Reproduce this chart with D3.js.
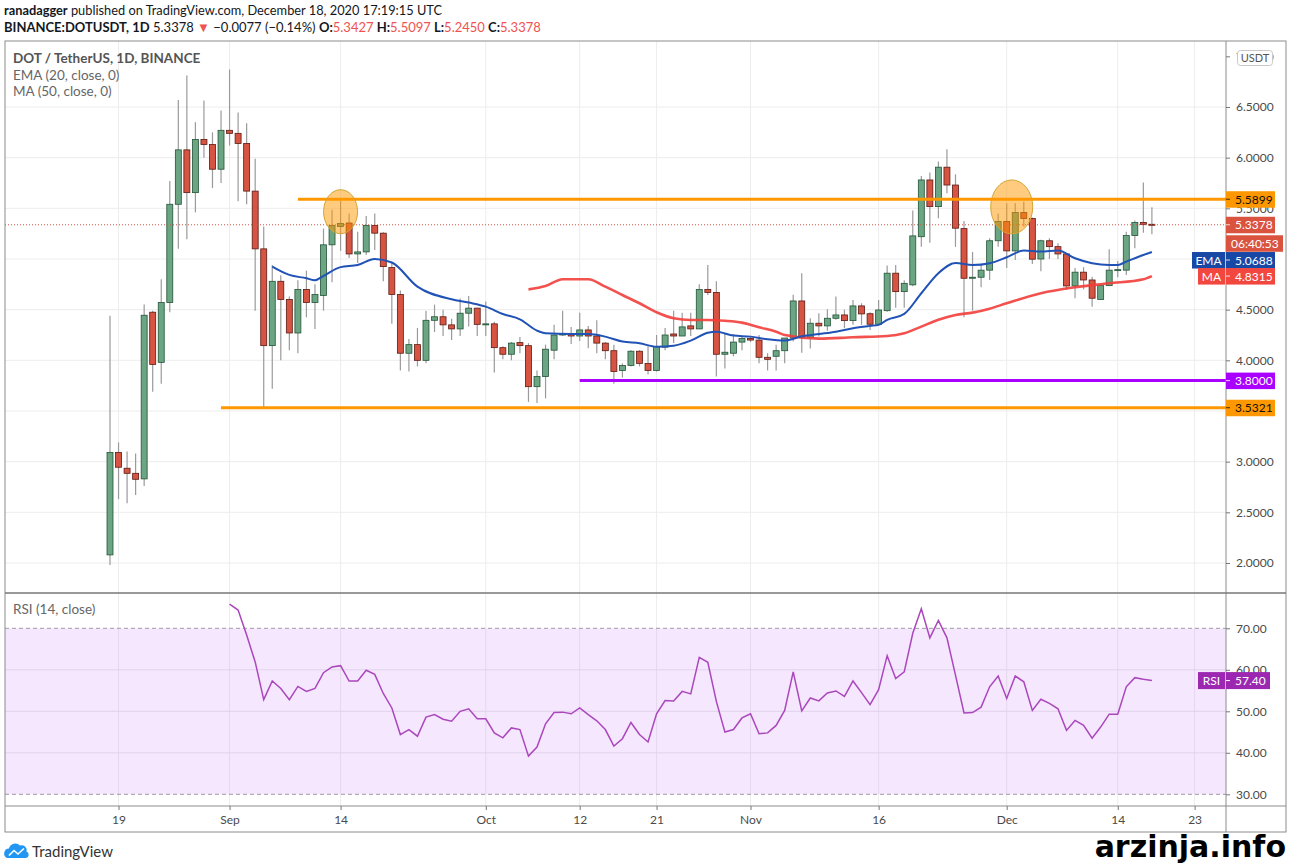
<!DOCTYPE html>
<html>
<head>
<meta charset="utf-8">
<script src="https://cdn.jsdelivr.net/npm/d3@7"></script>
<style>
  body { margin: 0; background: #fff; }
  svg { display: block; font-family: Lato, "Open Sans", sans-serif; }
</style>
</head>
<body>
<div id="chart"></div>
<script>
// ---- data (DOT/USDT, 1D, Binance) ----
var firstDay = "2020-08-18";

var opens = [2.08,3.09,2.935,2.885,2.83,4.475,3.98,4.57,5.54,6.077,5.655,6.18,6.13,5.886,6.27,6.24,6.14,5.67,5.10,4.145,4.78,4.60,4.27,4.70,4.57,4.64,5.14,5.32,5.355,5.05,5.07,5.33,5.255,
  4.915,4.65,4.07,4.155,4.00,4.395,4.43,4.35,4.31,4.465,4.515,4.355,4.36,4.125,4.06,4.175,4.145,3.74,3.84,4.10,4.25,4.26,4.24,4.30,4.24,4.17,4.095,3.90,3.95,4.09,3.97,3.90,4.13,4.26,4.24,4.34,4.31,4.70,4.67,4.06,4.07,4.18,4.215,4.20,4.03,4.04,4.095,4.22,4.586,4.228,4.366,4.34,4.415,4.448,4.392,4.537,4.46,4.356,4.49,4.86,4.678,4.745,5.22,5.78,5.517,5.906,5.73,5.30,4.81,4.82,4.89,5.18,5.37,5.08,5.458,5.40,5.00,5.18,5.122,5.05,4.734,4.87,4.793,4.60,4.737,4.89,4.89,5.231,5.36,5.3427];
var highs = [4.44,3.19,3.10,3.08,4.55,4.49,4.80,5.77,6.57,6.81,6.35,6.565,6.25,6.465,6.87,6.445,6.34,5.99,5.32,4.94,4.84,4.63,4.79,4.885,4.75,5.30,5.485,5.575,5.45,5.27,5.425,5.45,5.265,
  4.96,4.69,4.21,4.32,4.49,4.55,4.50,4.41,4.61,4.635,4.52,4.58,4.38,4.14,4.18,4.23,4.17,3.90,4.155,4.35,4.49,4.33,4.47,4.34,4.395,4.18,4.155,3.97,4.10,4.10,4.14,4.25,4.32,4.49,4.47,4.47,4.75,4.94,4.78,4.26,4.26,4.24,4.23,4.25,4.07,4.155,4.22,4.646,4.86,4.415,4.465,4.504,4.629,4.50,4.596,4.563,4.475,4.596,4.935,4.94,4.79,5.478,5.82,5.853,5.962,6.084,5.836,5.376,5.07,4.94,5.205,5.45,5.55,5.55,5.566,5.41,5.19,5.205,5.155,5.05,4.91,4.92,4.826,4.743,5.097,4.98,5.27,5.38,5.754,5.5097];
var lows = [1.98,2.63,2.59,2.67,2.76,3.69,3.77,4.475,5.10,5.195,5.46,6.00,5.70,5.75,6.12,5.57,5.54,4.49,3.527,3.72,4.00,4.10,4.07,4.425,4.31,4.49,4.77,5.08,5.01,4.96,5.04,5.09,4.78,
  4.36,3.90,3.89,3.94,3.97,4.28,4.24,4.20,4.24,4.335,4.24,4.24,3.88,4.01,4.00,4.07,3.59,3.58,3.625,4.01,4.24,4.16,4.19,4.12,4.07,4.01,3.77,3.83,3.94,3.94,3.86,3.89,4.10,4.17,4.24,4.24,4.31,4.645,3.84,3.92,4.04,4.10,4.18,3.97,3.90,3.90,3.97,4.186,4.076,4.117,4.235,4.293,4.40,4.317,4.35,4.35,4.30,4.35,4.48,4.52,4.52,4.73,5.12,5.16,5.402,5.649,5.12,4.425,4.49,4.72,4.793,5.12,4.91,4.99,5.32,4.95,4.88,5.00,5.00,4.694,4.613,4.70,4.53,4.60,4.734,4.82,4.843,5.106,5.26,5.245];
var closes = [3.09,2.945,2.885,2.826,4.445,3.96,4.57,5.54,6.077,5.655,6.18,6.13,5.886,6.27,6.24,6.14,5.67,5.10,4.145,4.78,4.60,4.27,4.70,4.57,4.65,5.14,5.33,5.35,5.05,5.07,5.33,5.255,4.925,
  4.65,4.07,4.155,4.00,4.395,4.43,4.35,4.31,4.465,4.515,4.355,4.36,4.125,4.06,4.17,4.145,3.74,3.84,4.11,4.25,4.26,4.24,4.30,4.24,4.17,4.095,3.89,3.95,4.09,3.97,3.90,4.135,4.25,4.24,4.33,4.31,4.70,4.67,4.06,4.08,4.18,4.215,4.20,4.03,4.01,4.095,4.22,4.586,4.228,4.366,4.34,4.415,4.448,4.392,4.537,4.458,4.356,4.497,4.86,4.678,4.76,5.228,5.78,5.517,5.906,5.73,5.304,4.81,4.82,4.89,5.18,5.37,5.08,5.458,5.40,4.998,5.18,5.122,5.05,4.734,4.87,4.793,4.613,4.737,4.89,4.895,5.231,5.36,5.342,5.3378];

// EMA (20) and MA (50) as read: day number (from first candle) and value
var emaDays = [19,21,23,24,25,27,29,31,33,36,40,42,44,46,48,50,51,54,56,58,60,62,64,66,68,70,71,73,75,77,79,81,83,85,87,89,90,91,93,95,97,99,101,103,105,107,109,111,113,115,117,118,119,121,122];
var emaVals = [4.925,4.843,4.81,4.79,4.833,4.92,4.94,5.00,4.965,4.727,4.603,4.57,4.53,4.457,4.405,4.293,4.267,4.26,4.26,4.234,4.185,4.168,4.135,4.145,4.195,4.273,4.283,4.244,4.234,4.207,4.195,4.237,4.26,4.283,4.317,4.34,4.35,4.40,4.458,4.662,4.86,4.96,4.94,4.958,5.017,5.083,5.073,5.083,5.007,4.958,4.941,4.941,4.974,5.04,5.0688];
var maDays = [49,51,53,56,58,60,62,64,66,68,70,72,74,76,78,79,83,87,91,93,95,97,99,101,103,105,109,113,117,121,122];
var maVals = [4.70,4.733,4.80,4.80,4.727,4.645,4.563,4.474,4.415,4.398,4.398,4.39,4.372,4.326,4.283,4.25,4.214,4.228,4.24,4.267,4.333,4.40,4.448,4.471,4.51,4.563,4.662,4.721,4.76,4.80,4.8315];

// RSI (14), first value on day 14 (Sep 1)
var rsiStartDay = 14;
var rsiVals = [75.8,74.4,68.4,61.9,52.8,57.3,55.5,52.8,56.0,54.8,55.5,59.3,60.7,61.0,57.3,57.3,59.9,58.9,54.3,50.8,
  44.4,45.6,44.0,48.6,49.2,48.1,47.6,50.0,50.6,48.2,48.2,44.8,43.6,46.0,45.6,39.2,41.4,47.0,49.7,49.8,
  49.4,50.8,49.2,47.7,45.6,41.6,43.4,47.3,44.4,42.6,49.4,52.6,52.5,54.8,54.2,63.0,61.8,52.4,45.0,45.6,
  48.4,49.4,44.6,44.8,46.6,50.2,59.5,50.1,53.2,52.5,54.4,54.9,53.6,57.3,54.5,51.6,55.2,63.4,57.9,59.5,
  68.8,74.7,67.7,71.9,67.7,58.7,49.6,49.7,51.0,55.9,58.5,53.1,58.5,57.1,50.2,52.9,51.9,50.6,45.4,47.8,
  46.6,43.5,46.2,49.3,49.3,55.9,58.1,57.7,57.4];

// drawn levels
var levelPrices = [5.5899, 3.8000, 3.5321];
var levelStarts = ["2020-09-09", "2020-10-12", "2020-08-31"];

// highlighted tops (ellipses)
var markDates = ["2020-09-14", "2020-12-01"];
var markPrices = [5.467, 5.514];

// axis ticks (3.5000 sits under the 3.5321 tag, so it has no label)
var priceTicks = [2.0, 2.5, 3.0, 3.5, 4.0, 4.5, 5.0, 5.5, 6.0, 6.5, 7.0];
var hiddenPriceLabels = [3.5];
var rsiTicks = [30, 40, 50, 60, 70];
var dateTicks = ["2020-08-19","2020-09-01","2020-09-14","2020-10-01","2020-10-12","2020-10-21","2020-11-01","2020-11-16","2020-12-01","2020-12-14","2020-12-23"];
var dateTickLabels = ["19","Sep","14","Oct","12","21","Nov","16","Dec","14","23"];

var lastPrice = 5.3378, lastEma = 5.0688, lastMa = 4.8315, lastRsi = 57.40;

// ---- drawing ----
var W = 1289, H = 864;
var left = 5, right = 1226, outerRight = 1286;
var mainTop = 41, mainBottom = 593, rsiBottom = 806, axisBottom = 832;

var parse = d3.utcParse("%Y-%m-%d");
var day0 = parse(firstDay);
function dayDate(n) { return d3.utcDay.offset(day0, n); }

var x = d3.scaleUtc()
    .domain([parse("2020-08-18"), parse("2020-12-23")])
    .range([110, 1194.6]);
var y = d3.scaleLinear().domain([2, 6.5]).range([563, 107]);
var yr = d3.scaleLinear().domain([30, 70]).range([794.3, 628.3]);

var dayW = x(dayDate(1)) - x(dayDate(0));
var bodyW = dayW * 0.7;

var candles = opens.map(function(o, i) {
  return { date: dayDate(i), o: o, h: highs[i], l: lows[i], c: closes[i] };
});

var svg = d3.select("#chart").append("svg")
    .attr("width", W)
    .attr("height", H);

// header
var head1 = svg.append("text").attr("x", 4).attr("y", 15)
    .attr("font-size", 12.8).attr("fill", "#131722");
head1.append("tspan").attr("font-weight", 700).text("ranadagger");
head1.append("tspan").text(" published on TradingView.com, December 18, 2020 17:19:15 UTC");

var red = "#ef5350";
var head2 = svg.append("text").attr("x", 4).attr("y", 32)
    .attr("font-size", 13).attr("fill", "#131722");
head2.append("tspan").attr("font-weight", 700).text("BINANCE:DOTUSDT, 1D");
head2.append("tspan").text(" 5.3378 ");
head2.append("tspan").attr("fill", red).text("▼");
head2.append("tspan").text(" −0.0077 (−0.14%) ");
[["O:", "5.3427"], ["H:", "5.5097"], ["L:", "5.2450"], ["C:", "5.3378"]].forEach(function(p, i) {
  head2.append("tspan").attr("font-weight", 700).text((i ? " " : "") + p[0]);
  head2.append("tspan").attr("fill", red).text(p[1]);
});

// grid
var grid = svg.append("g");
grid.selectAll(".vg")
    .data(dateTicks)
  .enter().append("line")
    .attr("x1", function(d) { return x(parse(d)); })
    .attr("x2", function(d) { return x(parse(d)); })
    .attr("y1", mainTop).attr("y2", rsiBottom)
    .attr("stroke", "#ededed");
grid.selectAll(".hg")
    .data(priceTicks.filter(function(d) { return d < 7; }))
  .enter().append("line")
    .attr("x1", left).attr("x2", right)
    .attr("y1", function(d) { return y(d); })
    .attr("y2", function(d) { return y(d); })
    .attr("stroke", "#ededed");

// RSI band
svg.append("rect")
    .attr("x", left).attr("width", right - left)
    .attr("y", yr(70)).attr("height", yr(30) - yr(70))
    .attr("fill", "rgba(170,60,240,0.12)");
svg.selectAll(".rg")
    .data([40, 50, 60])
  .enter().append("line")
    .attr("x1", left).attr("x2", right)
    .attr("y1", function(d) { return yr(d); })
    .attr("y2", function(d) { return yr(d); })
    .attr("stroke", "#e2d3ec");
svg.selectAll(".rb")
    .data([30, 70])
  .enter().append("line")
    .attr("x1", left).attr("x2", right)
    .attr("y1", function(d) { return yr(d); })
    .attr("y2", function(d) { return yr(d); })
    .attr("stroke", "#a09aa6")
    .attr("stroke-dasharray", "4,3");

// candles
var cg = svg.append("g");
cg.selectAll(".wick")
    .data(candles)
  .enter().append("line")
    .attr("x1", function(d) { return x(d.date); })
    .attr("x2", function(d) { return x(d.date); })
    .attr("y1", function(d) { return y(d.h); })
    .attr("y2", function(d) { return y(d.l); })
    .attr("stroke", "#9a9a9a")
    .attr("stroke-width", 1.2);
cg.selectAll(".body")
    .data(candles)
  .enter().append("rect")
    .attr("x", function(d) { return x(d.date) - bodyW / 2; })
    .attr("width", bodyW)
    .attr("y", function(d) { return y(Math.max(d.o, d.c)); })
    .attr("height", function(d) { return Math.max(1, Math.abs(y(d.o) - y(d.c))); })
    .attr("fill", function(d) { return d.c >= d.o ? "#6ba583" : "#d75442"; })
    .attr("stroke", function(d) { return d.c >= d.o ? "#225437" : "#5b1a13"; })
    .attr("stroke-width", 0.8);

// moving averages
var line = d3.line()
    .x(function(d) { return x(dayDate(d[0])); })
    .y(function(d) { return y(d[1]); })
    .curve(d3.curveMonotoneX);
svg.append("path")
    .datum(maDays.map(function(d, i) { return [d, maVals[i]]; }))
    .attr("d", line)
    .attr("fill", "none")
    .attr("stroke", "#f23e3a")
    .attr("stroke-width", 2.6)
    .attr("stroke-opacity", 0.9);
svg.append("path")
    .datum(emaDays.map(function(d, i) { return [d, emaVals[i]]; }))
    .attr("d", line)
    .attr("fill", "none")
    .attr("stroke", "#2152b5")
    .attr("stroke-width", 2);

// last price line
svg.append("line")
    .attr("x1", left).attr("x2", right)
    .attr("y1", y(lastPrice)).attr("y2", y(lastPrice))
    .attr("stroke", "#d75442")
    .attr("stroke-width", 1)
    .attr("stroke-dasharray", "1,2");

// horizontal levels
var levelColors = ["#ff9800", "#aa00ff", "#ff9800"];
svg.selectAll(".level")
    .data(levelPrices)
  .enter().append("line")
    .attr("x1", function(d, i) { return x(parse(levelStarts[i])); })
    .attr("x2", right)
    .attr("y1", function(d) { return y(d); })
    .attr("y2", function(d) { return y(d); })
    .attr("stroke", function(d, i) { return levelColors[i]; })
    .attr("stroke-width", 3);

// ellipses at the tops
var markR = [[17, 22], [21, 27]];
svg.selectAll(".mark")
    .data(markPrices)
  .enter().append("ellipse")
    .attr("cx", function(d, i) { return x(parse(markDates[i])) + (i ? 5 : 0); })
    .attr("cy", function(d) { return y(d); })
    .attr("rx", function(d, i) { return markR[i][0]; })
    .attr("ry", function(d, i) { return markR[i][1]; })
    .attr("fill", "rgba(255,152,0,0.5)")
    .attr("stroke", "#d2a533")
    .attr("stroke-width", 1);

// RSI line
svg.append("path")
    .datum(rsiVals)
    .attr("d", d3.line()
      .x(function(d, i) { return x(dayDate(rsiStartDay + i)); })
      .y(function(d) { return yr(d); }))
    .attr("fill", "none")
    .attr("stroke", "#ab47bc")
    .attr("stroke-width", 1.5);

// pane legends
svg.append("text").attr("x", 13).attr("y", 63)
    .attr("font-size", 13.5).attr("font-weight", 700).attr("fill", "#555")
    .text("DOT / TetherUS, 1D, BINANCE");
svg.append("text").attr("x", 13).attr("y", 80)
    .attr("font-size", 13.5).attr("fill", "#666")
    .text("EMA (20, close, 0)");
svg.append("text").attr("x", 13).attr("y", 96)
    .attr("font-size", 13.5).attr("fill", "#666")
    .text("MA (50, close, 0)");
svg.append("text").attr("x", 13).attr("y", 614)
    .attr("font-size", 13.5).attr("fill", "#666")
    .text("RSI (14, close)");

// frame
var frame = svg.append("g").attr("stroke", "#8c8c8c").attr("fill", "none");
frame.append("rect").attr("x", left).attr("y", mainTop)
    .attr("width", outerRight - left).attr("height", axisBottom - mainTop);
frame.append("line").attr("x1", right).attr("x2", right).attr("y1", mainTop).attr("y2", axisBottom);
frame.append("line").attr("x1", left).attr("x2", outerRight).attr("y1", mainBottom).attr("y2", mainBottom)
    .attr("stroke", "#777").attr("stroke-width", 1.5);
frame.append("line").attr("x1", left).attr("x2", outerRight).attr("y1", rsiBottom).attr("y2", rsiBottom);

// axes
var priceAxis = svg.append("g")
    .attr("transform", "translate(" + right + ",0)")
    .call(d3.axisRight(y).tickValues(priceTicks)
      .tickFormat(function(d) { return hiddenPriceLabels.indexOf(d) >= 0 ? "" : d3.format(".4f")(d); })
      .tickSize(4).tickPadding(6));
var rsiAxis = svg.append("g")
    .attr("transform", "translate(" + right + ",0)")
    .call(d3.axisRight(yr).tickValues(rsiTicks).tickFormat(d3.format(".2f")).tickSize(4).tickPadding(6));
var timeAxis = svg.append("g")
    .attr("transform", "translate(0," + rsiBottom + ")")
    .call(d3.axisBottom(x).tickValues(dateTicks.map(parse))
      .tickFormat(function(d, i) { return dateTickLabels[i]; }).tickSize(4).tickPadding(5));
[priceAxis, rsiAxis, timeAxis].forEach(function(a) {
  a.select(".domain").remove();
  a.selectAll(".tick line").attr("stroke", "#777");
  a.selectAll(".tick text").attr("fill", "#4a4a4a").attr("font-size", 12)
      .attr("font-family", "Lato, 'Open Sans', sans-serif");
});

// USDT box
svg.append("rect").attr("x", 1237.5).attr("y", 50.5).attr("width", 35).attr("height", 15)
    .attr("rx", 3).attr("fill", "#fff").attr("stroke", "#c8c8c8");
svg.append("text").attr("x", 1255).attr("y", 62).attr("text-anchor", "middle")
    .attr("font-size", 11).attr("fill", "#555").text("USDT");

// price scale labels
var tags = [
  { v: levelPrices[0], text: "5.5899", bg: "#ff9800", fg: "#111", w: 49, dy: 0 },
  { v: levelPrices[1], text: "3.8000", bg: "#aa00ff", fg: "#fff", w: 49, dy: 0 },
  { v: levelPrices[2], text: "3.5321", bg: "#ff9800", fg: "#111", w: 49, dy: 0 },
  { v: lastPrice, text: "5.3378", bg: "#d9533f", fg: "#fff", w: 49, dy: 0 },
  { v: lastPrice, text: "06:40:53", bg: "#d9533f", fg: "#fff", w: 57, dy: 18.5, pad: 5 },
  { v: lastEma, text: "5.0688", bg: "#1848a6", fg: "#fff", w: 49, dy: 8, tag: "EMA", tw: 33 },
  { v: lastMa, text: "4.8315", bg: "#f2473f", fg: "#fff", w: 49, dy: 0, tag: "MA", tw: 27 }
];
tags.forEach(function(t) {
  var cy = y(t.v) + t.dy;
  svg.append("rect").attr("x", right).attr("y", cy - 8).attr("width", t.w).attr("height", 16.5)
      .attr("fill", t.bg);
  if (!t.pad) {
    svg.append("line").attr("x1", right).attr("x2", right + 4).attr("y1", cy).attr("y2", cy)
        .attr("stroke", t.fg).attr("stroke-opacity", 0.8);
  }
  svg.append("text").attr("x", right + (t.pad || 9)).attr("y", cy + 4.5)
      .attr("font-size", 12).attr("fill", t.fg).text(t.text);
  if (t.tag) {
    svg.append("rect").attr("x", right - t.tw - 1).attr("y", cy - 8).attr("width", t.tw).attr("height", 16.5)
        .attr("fill", t.bg);
    svg.append("text").attr("x", right - 1 - t.tw / 2).attr("y", cy + 4.5).attr("text-anchor", "middle")
        .attr("font-size", 12).attr("fill", "#fff").text(t.tag);
  }
});

// RSI label
var rc = yr(lastRsi);
svg.append("rect").attr("x", 1198).attr("y", rc - 8.5).attr("width", 27).attr("height", 17).attr("fill", "#9c27b0");
svg.append("text").attr("x", 1211.5).attr("y", rc + 4.5).attr("text-anchor", "middle")
    .attr("font-size", 12).attr("fill", "#fff").text("RSI");
svg.append("rect").attr("x", right).attr("y", rc - 8.5).attr("width", 44).attr("height", 17).attr("fill", "#9c27b0");
svg.append("line").attr("x1", right).attr("x2", right + 4).attr("y1", rc).attr("y2", rc).attr("stroke", "#fff");
svg.append("text").attr("x", right + 9).attr("y", rc + 4.5)
    .attr("font-size", 12).attr("fill", "#fff").text(d3.format(".2f")(lastRsi));

// TradingView logo
var logo = svg.append("g");
logo.append("path")
    .attr("d", "M7,858 a5,5 0 0 1 2,-9.5 a6.5,6.5 0 0 1 11,-3 a5,5 0 0 1 6.5,6 a3.4,3.4 0 0 1 -0.5,6.5 Z")
    .attr("fill", "#2196f3");
logo.append("path")
    .attr("d", "M9,855.5 L14,850.5 L18,854 L24,848.5")
    .attr("fill", "none").attr("stroke", "#fff").attr("stroke-width", 1.6);
svg.append("text").attr("x", 32).attr("y", 857)
    .attr("font-size", 15).attr("fill", "#333").text("TradingView");

// watermark
svg.append("text").attr("x", 1286).attr("y", 857).attr("text-anchor", "end")
    .attr("font-family", "'DejaVu Sans', sans-serif").attr("font-weight", 700)
    .attr("font-size", 30).attr("fill", "#000").text("arzinja.info");
</script>
</body>
</html>
